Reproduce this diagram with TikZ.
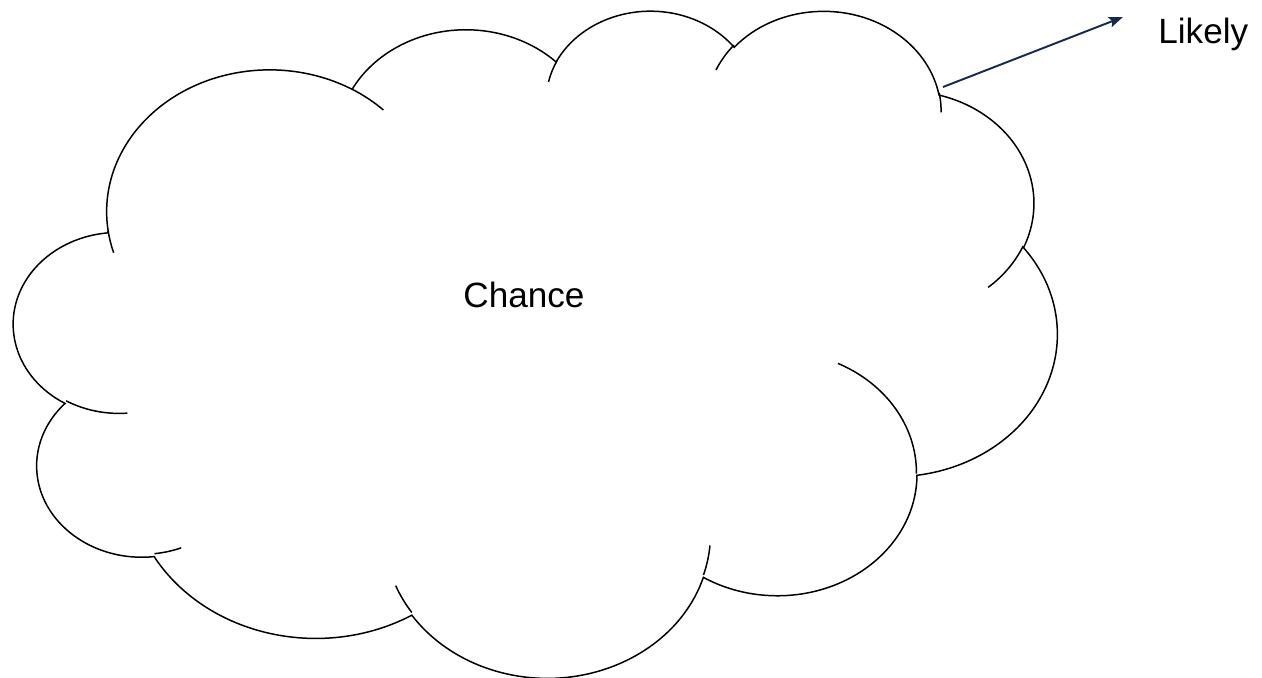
\documentclass[tikz,border=0pt]{standalone}
\usepackage{fontspec}
\setmainfont{Liberation Sans}
\usepackage{xcolor}
\usepackage{tikz}
\usetikzlibrary{positioning, arrows.meta}
\definecolor{navy}{RGB}{23,42,78}

% one lobe of the cloud: x radius, y radius, start angle, sweep (angles seen from the centre)
\newcommand{\cloudlobe}[4]{%
  arc[start angle={#3+atan((#1-#2)*sin(#3)*cos(#3)/(#2*cos(#3)*cos(#3)+#1*sin(#3)*sin(#3)))},
      end angle={#3+#4+atan((#1-#2)*sin(#3+#4)*cos(#3+#4)/(#2*cos(#3+#4)*cos(#3+#4)+#1*sin(#3+#4)*sin(#3+#4)))},
      x radius=#1, y radius=#2]}

\begin{document}
\begin{tikzpicture}[x=0.02cm, y=-0.02cm,
    word/.style={font=\fontsize{20}{24}\selectfont, inner sep=0pt},
    outline/.style={draw=black, line width=0.85pt},
    arrow/.style={-{Stealth[length=8pt, width=6pt, inset=1.5pt]}, draw=navy, line width=1.1pt}
]
\useasboundingbox (0,0) rectangle (1262,677);

% Cloud
\begin{scope}[shift={(14,9)}, x=0.048287cm, y=-0.030880cm]
\draw[outline] (39.00,143.70)
    \cloudlobe{67.53}{91.90}{-190.4875}{123.7805}
    \cloudlobe{53.33}{72.67}{-144.1024}{89.9452}
    \cloudlobe{43.65}{59.45}{-145.8079}{99.7230}
    \cloudlobe{48.57}{65.95}{-130.9861}{117.2417}
    \cloudlobe{53.33}{72.73}{-78.7089}{109.0269}
    \cloudlobe{67.75}{92.20}{-46.2673}{130.2690}
    \cloudlobe{57.85}{78.67}{0.6250}{114.0333}
    \cloudlobe{67.52}{92.15}{22.4516}{115.1726}
    \cloudlobe{77.20}{105.43}{66.2426}{75.7110}
    \cloudlobe{43.60}{59.18}{-274.9421}{146.7356}
    \cloudlobe{43.45}{59.45}{-246.8285}{152.5189}
    -- cycle;

% Inner tails of the lobes
\draw[outline]
    (46.93,261.77) \cloudlobe{43.45}{59.45}{86.7420}{26.4295}
    (69.28,348.99) \cloudlobe{43.60}{59.18}{73.6105}{11.4475}
    (164.78,390.90) \cloudlobe{67.52}{92.15}{137.6242}{14.0811}
    (288.27,347.51) \cloudlobe{67.52}{92.15}{6.4533}{15.9984}
    (341.29,229.54) \cloudlobe{57.85}{78.67}{-70.2924}{70.9174}
    (417.98,153.54) \cloudlobe{53.33}{72.73}{30.3180}{27.7515}
    (383.24,54.26) \cloudlobe{48.57}{65.95}{-13.7443}{14.8589}
    (290.78,39.52) \cloudlobe{48.57}{65.95}{-149.1815}{18.1954}
    (221.41,47.20) \cloudlobe{43.65}{59.45}{-163.4943}{17.6864}
    (140.00,51.92) \cloudlobe{67.53}{91.90}{-66.7070}{12.3194}
    (41.27,157.89) \cloudlobe{67.53}{91.90}{157.6544}{11.8582};
\end{scope}

% Labels
\node[word, anchor=base] (chance) at (524,307) {Chance};
\node[word, anchor=base west] (likely) at (1158,43) {Likely};

% Arrow out of the cloud
\coordinate (rim) at (943,87);
\coordinate (tip) at (1123,17);
\draw[arrow] (rim) -- (tip);

\end{tikzpicture}
\end{document}
